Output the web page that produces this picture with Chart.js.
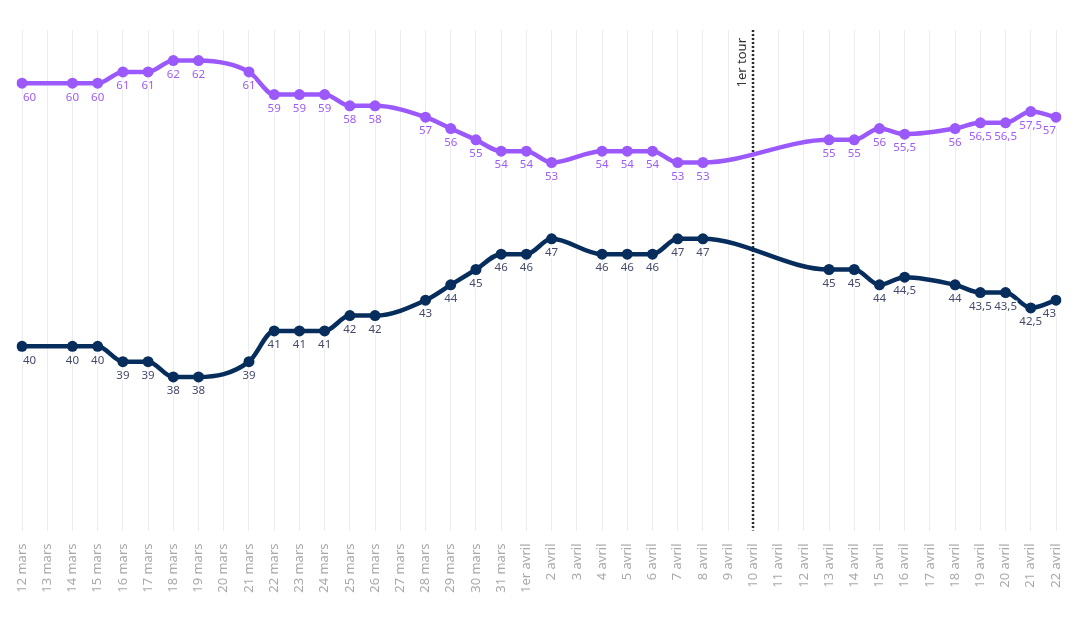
<!DOCTYPE html>
<html lang="fr">
<head>
<meta charset="utf-8">
<script src="https://cdn.jsdelivr.net/npm/chart.js@4"></script>
<style>
  html, body { margin: 0; padding: 0; background: #fff; }
  #wrap { width: 1080px; height: 624px; position: relative; }
</style>
</head>
<body>
<div id="wrap"><canvas id="chart"></canvas></div>
<script>
// Données — second tour, intentions de vote (12 mars → 22 avril)
const DAYS = [
  '12 mars', '13 mars', '14 mars', '15 mars', '16 mars', '17 mars', '18 mars',
  '19 mars', '20 mars', '21 mars', '22 mars', '23 mars', '24 mars', '25 mars',
  '26 mars', '27 mars', '28 mars', '29 mars', '30 mars', '31 mars', '1er avril',
  '2 avril', '3 avril', '4 avril', '5 avril', '6 avril', '7 avril', '8 avril',
  '9 avril', '10 avril', '11 avril', '12 avril', '13 avril', '14 avril', '15 avril',
  '16 avril', '17 avril', '18 avril', '19 avril', '20 avril', '21 avril', '22 avril',
];

const PURPLE_VALUES = [
  60, null, 60, 60, 61, 61, 62, 62, null, 61, 59, 59, 59, 58,
  58, null, 57, 56, 55, 54, 54, 53, null, 54, 54, 54, 53, 53,
  null, null, null, null, 55, 55, 56, 55.5, null, 56, 56.5, 56.5, 57.5, 57,
];

const NAVY_VALUES = [
  40, null, 40, 40, 39, 39, 38, 38, null, 39, 41, 41, 41, 42,
  42, null, 43, 44, 45, 46, 46, 47, null, 46, 46, 46, 47, 47,
  null, null, null, null, 45, 45, 44, 44.5, null, 44, 43.5, 43.5, 42.5, 43,
];

const MARKER_DAY   = '10 avril';
const MARKER_LABEL = '1er tour';

const PURPLE_COLOR = '#9b59fb';
const NAVY_COLOR   = '#062d5c';
const GRID_COLOR   = '#ececec';
const TICK_COLOR   = '#a9a9a9';
const FONT         = "'Noto Sans', 'Open Sans', sans-serif";

function fmt(v) {
  return String(v).replace('.', ',');
}

// étiquettes de valeur sous chaque point
const valueLabels = {
  id: 'valueLabels',
  afterDatasetsDraw(chart) {
    const { ctx, chartArea } = chart;
    ctx.save();
    ctx.font = `11.5px ${FONT}`;
    ctx.textAlign = 'center';
    ctx.textBaseline = 'middle';
    chart.data.datasets.forEach((ds, i) => {
      const meta = chart.getDatasetMeta(i);
      meta.data.forEach((pt, j) => {
        const v = ds.data[j];
        if (v == null) return;
        const txt = fmt(v);
        const w = ctx.measureText(txt).width;
        let x = pt.x;
        x = Math.max(x, chartArea.left + w / 2 + 1);
        x = Math.min(x, chartArea.right - w / 2);
        const y = pt.y + 14;
        ctx.lineWidth = 3;
        ctx.strokeStyle = 'rgba(255,255,255,0.9)';
        ctx.strokeText(txt, x, y);
        ctx.fillStyle = ds.labelColor;
        ctx.fillText(txt, x, y);
      });
    });
    ctx.restore();
  },
};

// ligne pointillée du 1er tour
const markerLine = {
  id: 'markerLine',
  beforeDatasetsDraw(chart) {
    const { ctx, chartArea, scales } = chart;
    const x = Math.round(scales.x.getPixelForValue(DAYS.indexOf(MARKER_DAY)));
    ctx.save();
    ctx.strokeStyle = '#2b2b2b';
    ctx.lineWidth = 2.5;
    ctx.setLineDash([2, 2]);
    ctx.beginPath();
    ctx.moveTo(x, chartArea.top);
    ctx.lineTo(x, chartArea.bottom);
    ctx.stroke();
    ctx.setLineDash([]);
    ctx.translate(x - 11, chartArea.top + 8);
    ctx.rotate(-Math.PI / 2);
    ctx.font = `13px ${FONT}`;
    ctx.fillStyle = '#333';
    ctx.textAlign = 'right';
    ctx.textBaseline = 'middle';
    ctx.fillText(MARKER_LABEL, 0, 0);
    ctx.restore();
  },
};

new Chart(document.getElementById('chart'), {
  type: 'line',
  data: {
    labels: DAYS,
    datasets: [
      {
        data: PURPLE_VALUES,
        yAxisID: 'yPurple',
        borderColor: PURPLE_COLOR,
        backgroundColor: PURPLE_COLOR,
        labelColor: '#9d5cf7',
        borderWidth: 4.5,
        pointRadius: 5.5,
        pointBorderWidth: 0,
        cubicInterpolationMode: 'monotone',
        spanGaps: true,
      },
      {
        data: NAVY_VALUES,
        yAxisID: 'yNavy',
        borderColor: NAVY_COLOR,
        backgroundColor: NAVY_COLOR,
        labelColor: '#444a6b',
        borderWidth: 4.5,
        pointRadius: 5.5,
        pointBorderWidth: 0,
        cubicInterpolationMode: 'monotone',
        spanGaps: true,
      },
    ],
  },
  options: {
    responsive: true,
    maintainAspectRatio: false,
    animation: false,
    layout: { padding: { top: 30, left: 22, right: 24, bottom: 18 } },
    plugins: {
      legend: { display: false },
      tooltip: { enabled: false },
    },
    scales: {
      x: {
        offset: false,
        grid: { color: GRID_COLOR, lineWidth: 1, drawTicks: false },
        border: { display: false },
        afterFit(scale) {
          scale.paddingLeft = 0;
          scale.paddingRight = 0;
        },
        ticks: {
          color: TICK_COLOR,
          font: { family: FONT, size: 13 },
          minRotation: 90,
          maxRotation: 90,
          autoSkip: false,
          padding: 13,
        },
      },
      yPurple: { display: false, min: 20.5, max: 64.7 },
      yNavy:   { display: false, min: 28.0, max: 60.6 },
    },
  },
  plugins: [markerLine, valueLabels],
});
</script>
</body>
</html>
